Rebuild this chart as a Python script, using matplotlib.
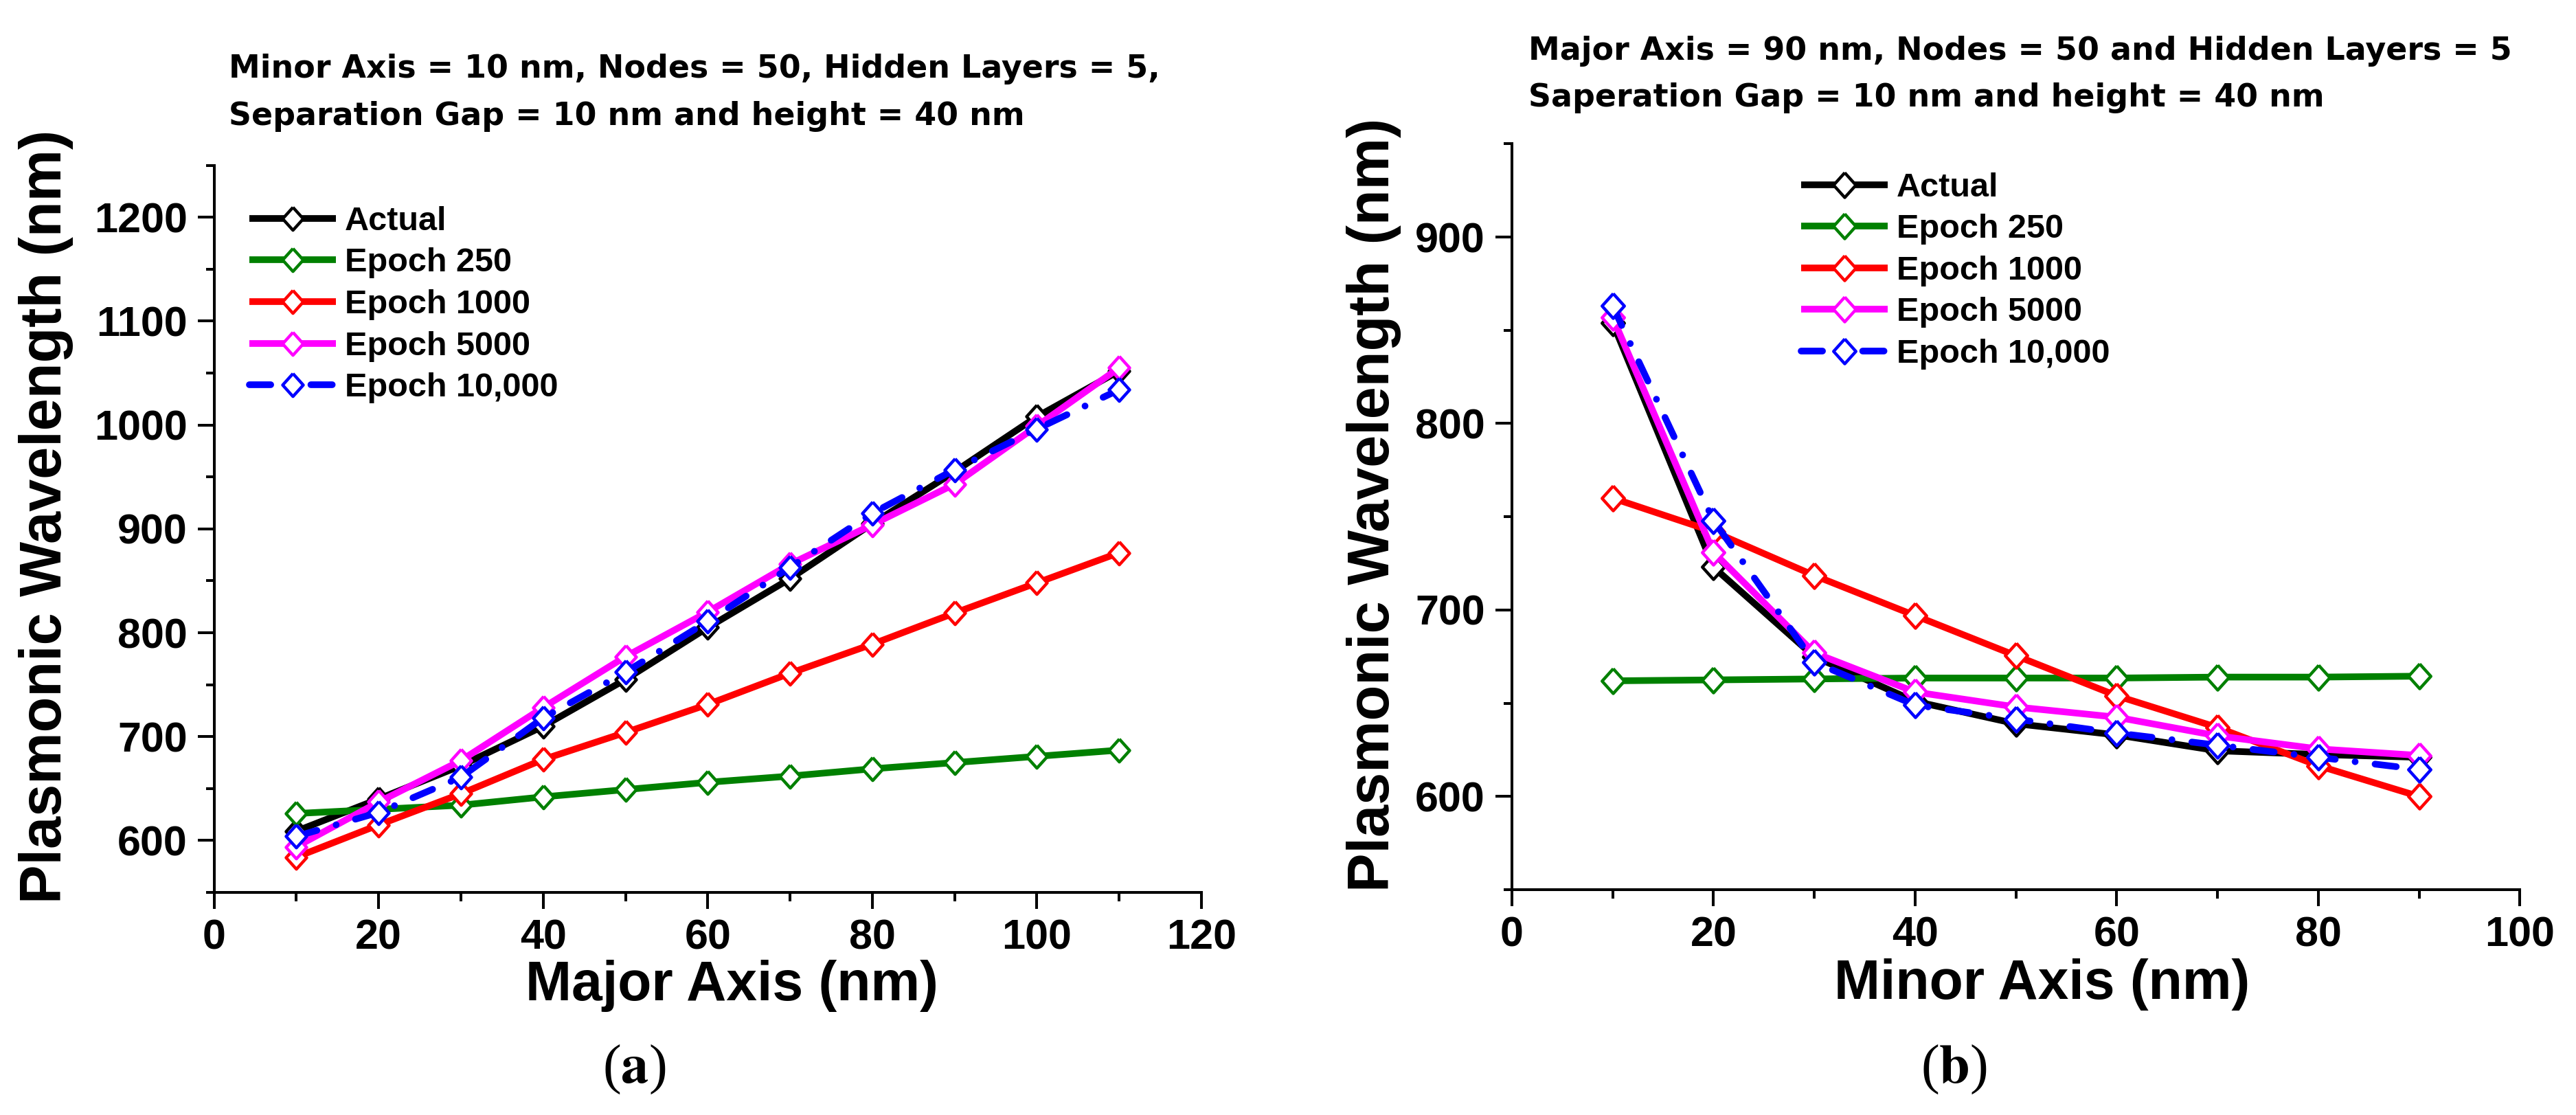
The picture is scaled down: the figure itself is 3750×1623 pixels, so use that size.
import matplotlib
matplotlib.use("Agg")
import matplotlib.pyplot as plt
from matplotlib.ticker import MultipleLocator

plt.rcParams['font.family'] = ['Liberation Sans', 'DejaVu Sans']
plt.rcParams['font.weight'] = 'bold'
plt.rcParams['mathtext.fontset'] = 'stix'

# panel (a): wavelength vs major axis
major_axis = [10, 20, 30, 40, 50, 60, 70, 80, 90, 100, 110]
a_actual = [609, 640, 672, 710, 755, 805, 852, 905, 955, 1008, 1052]
a_ep250 = [626, 630, 634, 642, 649, 656, 662, 669, 675, 681, 687]
a_ep1000 = [584, 615, 645, 678, 704, 731, 761, 789, 819, 848, 877]
a_ep5000 = [594, 637, 677, 728, 777, 820, 866, 904, 943, 999, 1055]
a_ep10000 = [604, 627, 661, 718, 762, 811, 863, 915, 957, 996, 1034]

# panel (b): wavelength vs minor axis
minor_axis = [10, 20, 30, 40, 50, 60, 70, 80, 90]
b_actual = [854, 723, 675, 651, 639, 633, 624.5, 622.5, 621]
b_ep250 = [662, 662.5, 663, 663.5, 663.5, 663.5, 664, 664, 664.5]
b_ep1000 = [760, 742, 718.5, 697, 675.5, 654, 637, 616.5, 600]
b_ep5000 = [857, 731, 677, 656, 648, 642.5, 632.5, 625.5, 622]
b_ep10000 = [863, 748, 672, 649, 641.5, 634, 627.5, 621, 614.5]

labels = ["Actual", "Epoch 250", "Epoch 1000", "Epoch 5000", "Epoch 10,000"]
colors = ["black", "#008000", "#FF0000", "#FF00FF", "#0000FF"]
dashdot = (0, (3.2, 3.0, 0.01, 3.0))
styles = ["-", "-", "-", "-", dashdot]

# open diamond, a little taller than wide (Origin style)
diamond = [(0, 1), (0.9, 0), (0, -1), (-0.9, 0), (0, 1)]

fig = plt.figure(figsize=(37.5, 16.23), dpi=100)


def draw_panel(rect, x, series, xmax, ymin, ymax, ms, legend_at):
    ax = fig.add_axes(rect)
    for ys, lab, c, ls in zip(series, labels, colors, styles):
        ax.plot(x, ys, linestyle=ls, color=c, lw=7, marker=diamond, ms=ms,
                mfc="white", mec=c, mew=3.2, label=lab,
                dash_capstyle="round", solid_capstyle="butt")
    ax.set_xlim(0, xmax)
    ax.set_ylim(ymin, ymax)
    ax.xaxis.set_major_locator(MultipleLocator(20))
    ax.xaxis.set_minor_locator(MultipleLocator(10))
    ax.yaxis.set_major_locator(MultipleLocator(100))
    ax.yaxis.set_minor_locator(MultipleLocator(50))
    for s in ["top", "right"]:
        ax.spines[s].set_visible(False)
    for s in ["left", "bottom"]:
        ax.spines[s].set_linewidth(2.9)
    ax.tick_params(which="major", direction="out", length=17, width=2.9,
                   labelsize=44, pad=11)
    ax.tick_params(which="minor", direction="out", length=9, width=2.9)
    for t in ax.get_xticklabels() + ax.get_yticklabels():
        t.set_fontweight("bold")
    ax.legend(loc="upper left", bbox_to_anchor=legend_at,
              bbox_transform=fig.transFigure, frameon=False, numpoints=1,
              fontsize=35, handlelength=2.6, handletextpad=0.25,
              labelspacing=0.32, borderpad=0, borderaxespad=0)
    return ax


draw_panel([0.0831, 0.1996, 0.3833, 0.6522], major_axis,
           [a_actual, a_ep250, a_ep1000, a_ep5000, a_ep10000],
           120, 550, 1250, 24, (0.0968, 0.8152))
draw_panel([0.5869, 0.2021, 0.3913, 0.6689], minor_axis,
           [b_actual, b_ep250, b_ep1000, b_ep5000, b_ep10000],
           100, 550, 950, 26, (0.6992, 0.8455))

# titles above each panel
title_font = dict(fontsize=33, va="baseline", family="DejaVu Sans",
                  fontweight="bold")
fig.text(0.0888, 1 - 113 / 1623,
         "Minor Axis = 10 nm, Nodes = 50, Hidden Layers = 5,", **title_font)
fig.text(0.0888, 1 - 182 / 1623,
         "Separation Gap = 10 nm and height = 40 nm", **title_font)
fig.text(0.5933, 1 - 87 / 1623,
         "Major Axis = 90 nm, Nodes = 50 and Hidden Layers = 5", **title_font)
fig.text(0.5933, 1 - 155 / 1623,
         "Saperation Gap = 10 nm and height = 40 nm", **title_font)

# axis labels
fig.text(0.0179, 0.537, "Plasmonic Wavelength (nm)", fontsize=61,
         rotation=90, ha="center", va="center")
fig.text(0.5333, 0.547, "Plasmonic Wavelength (nm)", fontsize=61,
         rotation=90, ha="center", va="center")
fig.text(0.284, 0.1029, "Major Axis (nm)", fontsize=58, ha="center",
         va="baseline")
fig.text(0.7928, 0.1041, "Minor Axis (nm)", fontsize=58, ha="center",
         va="baseline")

# panel letters
fig.text(0.2461, 0.0407, r"($\mathbf{a}$)", fontsize=58, ha="center",
         va="center", family="Liberation Serif", fontweight="normal")
fig.text(0.7584, 0.0407, r"($\mathbf{b}$)", fontsize=58, ha="center",
         va="center", family="Liberation Serif", fontweight="normal")

fig.savefig("out.png", dpi=100)
